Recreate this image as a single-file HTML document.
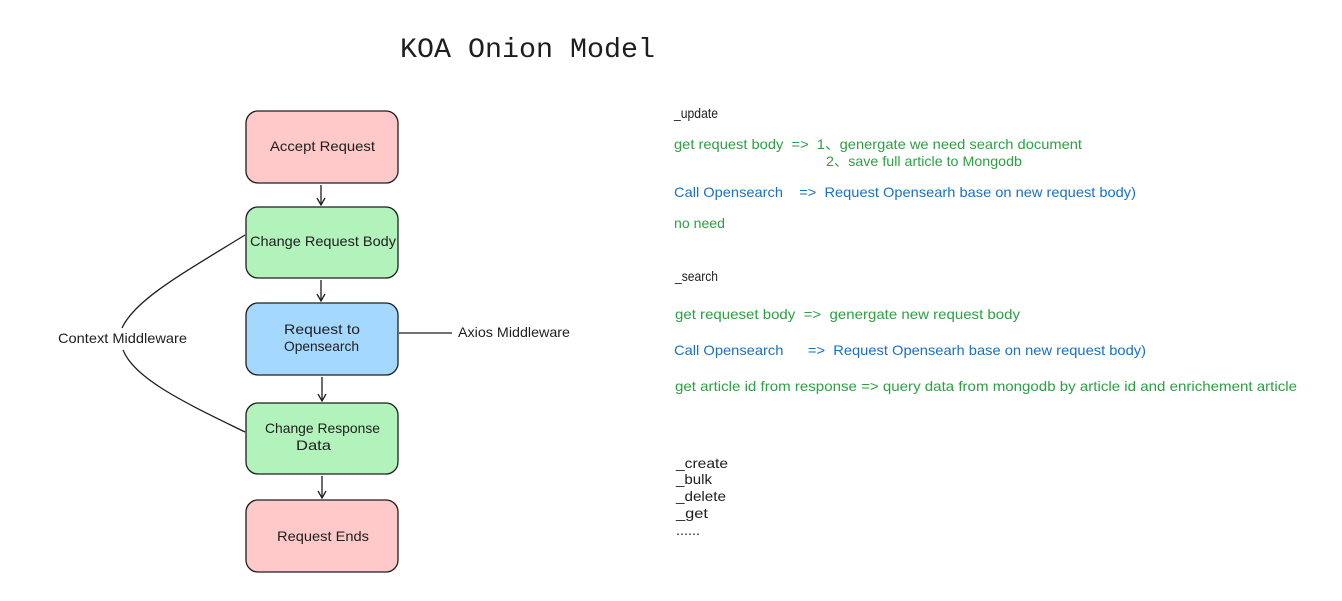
<!DOCTYPE html>
<html><head><meta charset="utf-8"><style>
html,body{margin:0;padding:0;background:#fff;}
svg{display:block;}
text{font-family:"Liberation Sans",sans-serif;font-size:14px;fill:#1e1e1e;white-space:pre;}
.g{fill:#2f9e44}.b{fill:#1971c2}
.box{stroke:#1e1e1e;stroke-width:1.3}
</style></head><body>
<svg width="1342" height="601" viewBox="0 0 1342 601" xml:space="preserve">
<defs><marker id="a" markerWidth="10" markerHeight="10" refX="8" refY="5" orient="auto" markerUnits="userSpaceOnUse"><path d="M1,1 L8,5 L1,9" fill="none" stroke="#1e1e1e" stroke-width="1.3"/></marker></defs>
<text x="400" y="57" style="font-family:'Liberation Mono',monospace;font-size:28px" textLength="255" lengthAdjust="spacingAndGlyphs">KOA Onion Model</text>
<rect class="box" x="246" y="111" width="152" height="72" rx="12" fill="#ffc9c9"/>
<rect class="box" x="246" y="207" width="152" height="71" rx="12" fill="#b2f2bb"/>
<rect class="box" x="246" y="303" width="152" height="72" rx="12" fill="#a5d8ff"/>
<rect class="box" x="246" y="403" width="152" height="71" rx="12" fill="#b2f2bb"/>
<rect class="box" x="246" y="500" width="152" height="72" rx="12" fill="#ffc9c9"/>
<g stroke="#1e1e1e" stroke-width="1.3" fill="none" marker-end="url(#a)">
<line x1="321" y1="185" x2="321" y2="205"/>
<line x1="321" y1="280" x2="321" y2="301"/>
<line x1="322" y1="377" x2="322" y2="401"/>
<line x1="322" y1="476" x2="322" y2="498"/>
</g>
<g stroke="#1e1e1e" stroke-width="1.3" fill="none">
<path d="M245,235 C180,275 135,300 122,328"/>
<path d="M123,350 C135,380 190,405 245,432"/>
<line x1="399" y1="333" x2="452" y2="333"/>
</g>
<text x="270" y="151" textLength="105" lengthAdjust="spacingAndGlyphs">Accept Request</text>
<text x="250" y="246" textLength="146" lengthAdjust="spacingAndGlyphs">Change Request Body</text>
<text x="284" y="334" textLength="76" lengthAdjust="spacingAndGlyphs">Request to</text>
<text x="284" y="351" textLength="75" lengthAdjust="spacingAndGlyphs">Opensearch</text>
<text x="265" y="433" textLength="115" lengthAdjust="spacingAndGlyphs">Change Response</text>
<text x="296" y="450" textLength="35" lengthAdjust="spacingAndGlyphs">Data</text>
<text x="277" y="541" textLength="92" lengthAdjust="spacingAndGlyphs">Request Ends</text>
<text x="58" y="343" textLength="129" lengthAdjust="spacingAndGlyphs">Context Middleware</text>
<text x="458" y="337" textLength="112" lengthAdjust="spacingAndGlyphs">Axios Middleware</text>
<text x="674" y="118" textLength="44" lengthAdjust="spacingAndGlyphs">_update</text>
<text class="g" x="674" y="149" textLength="408" lengthAdjust="spacingAndGlyphs">get request body  =&gt;  1、genergate we need search document</text>
<text class="g" x="826" y="166" textLength="196" lengthAdjust="spacingAndGlyphs">2、save full article to Mongodb</text>
<text class="b" x="674" y="197" textLength="462" lengthAdjust="spacingAndGlyphs">Call Opensearch    =&gt;  Request Opensearh base on new request body)</text>
<text class="g" x="674" y="228" textLength="51" lengthAdjust="spacingAndGlyphs">no need</text>
<text x="675" y="281" textLength="43" lengthAdjust="spacingAndGlyphs">_search</text>
<text class="g" x="675" y="319" textLength="345" lengthAdjust="spacingAndGlyphs">get requeset body  =&gt;  genergate new request body</text>
<text class="b" x="674" y="355" textLength="472" lengthAdjust="spacingAndGlyphs">Call Opensearch      =&gt;  Request Opensearh base on new request body)</text>
<text class="g" x="675" y="391" textLength="622" lengthAdjust="spacingAndGlyphs">get article id from response =&gt; query data from mongodb by article id and enrichement article</text>
<text x="676" y="468" textLength="52" lengthAdjust="spacingAndGlyphs">_create</text>
<text x="676" y="484" textLength="36" lengthAdjust="spacingAndGlyphs">_bulk</text>
<text x="676" y="501" textLength="50" lengthAdjust="spacingAndGlyphs">_delete</text>
<text x="676" y="518" textLength="32" lengthAdjust="spacingAndGlyphs">_get</text>
<text x="676" y="535" textLength="24" lengthAdjust="spacingAndGlyphs">......</text>
</svg>
</body></html>
